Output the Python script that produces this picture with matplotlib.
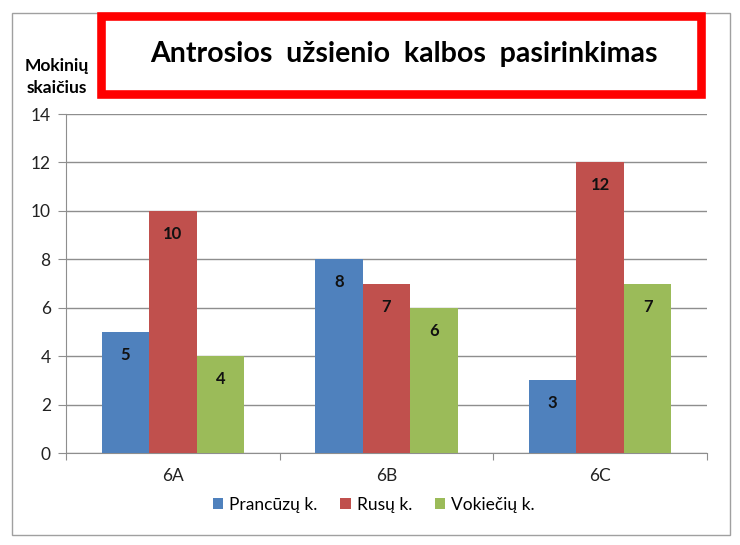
import numpy as np
import matplotlib.pyplot as plt
from matplotlib.patches import Rectangle

plt.rcParams['font.family'] = ['Lato', 'DejaVu Sans']

# data
classes = ['6A', '6B', '6C']
series = ['Prancūzų k.', 'Rusų k.', 'Vokiečių k.']
prancuzu = [5, 8, 3]
rusu = [10, 7, 12]
vokieciu = [4, 6, 7]
colors = ['#4F81BD', '#C0504D', '#9BBB59']

fig = plt.figure(figsize=(7.4, 5.45), dpi=100)
ax = fig.add_axes([66/740, 1 - 453/545, (707 - 66)/740, (453 - 114)/545])

x = np.arange(len(classes))
w = 1 / 4.5
grid_col = '#8e8e8e'

for i, (vals, name) in enumerate(zip([prancuzu, rusu, vokieciu], series)):
    pos = x + (i - 1) * w
    bars = ax.bar(pos, vals, w, color=colors[i], label=name, zorder=3)
    for b, v in zip(bars, vals):
        ax.text(b.get_x() + b.get_width() / 2, v - 0.95, str(v),
                ha='center', va='center', fontsize=12, fontweight='bold',
                color='#111111', zorder=4)

ax.set_xlim(-0.5, 2.5)
ax.set_ylim(0, 14)
ax.set_yticks(np.arange(0, 15, 2))
ax.yaxis.grid(True, color=grid_col, lw=1, zorder=0)
ax.set_axisbelow(True)

ax.set_xticks([-0.5, 0.5, 1.5, 2.5])
ax.set_xticklabels([])
ax.set_xticks(x, minor=True)
ax.set_xticklabels(classes, minor=True)
ax.tick_params(axis='x', which='major', length=5, color=grid_col, direction='out')
ax.tick_params(axis='x', which='minor', length=0, pad=11, labelsize=12.5, labelcolor='#222222')
ax.tick_params(axis='y', length=6, color=grid_col, direction='out', pad=5,
               labelsize=12.5, labelcolor='#222222')

for s in ['top', 'right']:
    ax.spines[s].set_visible(False)
for s in ['left', 'bottom']:
    ax.spines[s].set_color(grid_col)

# y axis title
fig.text(57/740, 1 - 77/545, 'Mokinių\nskaičius', ha='center', va='center',
         fontsize=12.5, fontweight='bold', linespacing=1.4)

# outer chart border
fig.patches.append(Rectangle((12/740, 1 - 535/545), (730 - 12)/740, (535 - 13)/545,
                             transform=fig.transFigure, fill=False,
                             edgecolor='#a0a0a0', lw=1))

# title box
fig.patches.append(Rectangle((101.5/740, 1 - 94/545), (701 - 101.5)/740, (94 - 16)/545,
                             transform=fig.transFigure, facecolor='white',
                             edgecolor='#ff0000', lw=6.2, zorder=5))
fig.text(404/740, 1 - 54/545, 'Antrosios  užsienio  kalbos  pasirinkimas',
         ha='center', va='center', fontsize=20.5, fontweight='bold', zorder=6)

fig.legend(loc='center', bbox_to_anchor=(374/740, 1 - 505/545), ncol=3,
           frameon=False, fontsize=12.5, handlelength=0.6, handleheight=0.6,
           handletextpad=0.35, columnspacing=1.3)

plt.savefig('out.png', dpi=100)
